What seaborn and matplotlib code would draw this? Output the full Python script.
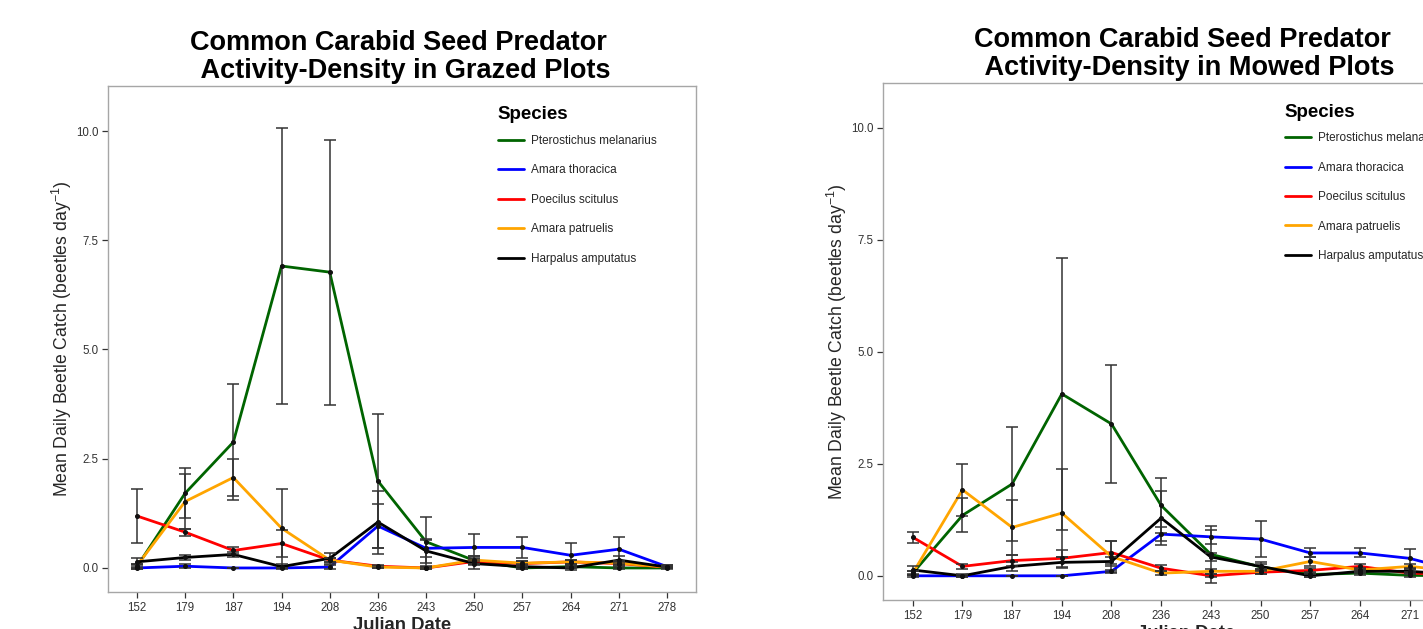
import matplotlib
matplotlib.use("Agg")
import matplotlib.pyplot as plt
import seaborn as sns
import pandas as pd

# ---------------- data ----------------
dates = ["152", "179", "187", "194", "208", "236", "243", "250", "257", "264", "271", "278"]
species = ["Pterostichus melanarius", "Amara thoracica", "Poecilus scitulus",
           "Amara patruelis", "Harpalus amputatus"]
colors = ["#006400", "#0000FF", "#FF0000", "#FFA500", "#000000"]

# Grazed plots: means and standard errors
grazed_pm = [0.03, 1.71, 2.88, 6.91, 6.77, 1.99, 0.60, 0.17, 0.00, 0.03, 0.00, 0.00]
grazed_pm_se = [0.05, 0.57, 1.33, 3.15, 3.03, 1.53, 0.56, 0.10, 0.03, 0.03, 0.03, 0.00]
grazed_at = [0.00, 0.04, 0.00, 0.00, 0.02, 0.96, 0.45, 0.47, 0.47, 0.29, 0.43, 0.03]
grazed_at_se = [0.03, 0.04, 0.00, 0.00, 0.05, 0.51, 0.20, 0.30, 0.24, 0.27, 0.29, 0.03]
grazed_ps = [1.19, 0.82, 0.40, 0.56, 0.18, 0.04, 0.00, 0.15, 0.10, 0.14, 0.10, 0.02]
grazed_ps_se = [0.61, 0.08, 0.07, 0.30, 0.05, 0.03, 0.02, 0.05, 0.05, 0.05, 0.05, 0.00]
grazed_ap = [0.05, 1.52, 2.07, 0.91, 0.18, 0.02, 0.00, 0.18, 0.11, 0.14, 0.11, 0.02]
grazed_ap_se = [0.05, 0.63, 0.42, 0.90, 0.05, 0.03, 0.02, 0.10, 0.05, 0.05, 0.05, 0.02]
grazed_ha = [0.14, 0.24, 0.31, 0.03, 0.22, 1.05, 0.39, 0.10, 0.03, 0.00, 0.18, 0.02]
grazed_ha_se = [0.08, 0.05, 0.06, 0.05, 0.12, 0.72, 0.28, 0.12, 0.05, 0.05, 0.10, 0.05]

# Mowed plots: means and standard errors
mowed_pm = [0.06, 1.35, 2.05, 4.06, 3.39, 1.57, 0.48, 0.20, 0.03, 0.06, 0.01, 0.00]
mowed_pm_se = [0.05, 0.38, 1.27, 3.04, 1.32, 0.61, 0.63, 0.10, 0.05, 0.05, 0.03, 0.00]
mowed_at = [0.00, 0.00, 0.00, 0.00, 0.10, 0.93, 0.87, 0.82, 0.51, 0.51, 0.39, 0.10]
mowed_at_se = [0.02, 0.02, 0.00, 0.00, 0.03, 0.15, 0.15, 0.41, 0.10, 0.10, 0.21, 0.05]
mowed_ps = [0.86, 0.21, 0.34, 0.39, 0.52, 0.17, 0.00, 0.08, 0.12, 0.21, 0.06, 0.03]
mowed_ps_se = [0.12, 0.05, 0.13, 0.19, 0.25, 0.07, 0.03, 0.05, 0.05, 0.05, 0.03, 0.03]
mowed_ap = [0.06, 1.92, 1.08, 1.40, 0.43, 0.06, 0.10, 0.10, 0.32, 0.13, 0.21, 0.10]
mowed_ap_se = [0.05, 0.58, 0.62, 0.98, 0.35, 0.05, 0.05, 0.05, 0.10, 0.05, 0.05, 0.05]
mowed_ha = [0.13, 0.00, 0.21, 0.30, 0.32, 1.29, 0.42, 0.21, 0.00, 0.10, 0.10, 0.03]
mowed_ha_se = [0.08, 0.03, 0.10, 0.12, 0.10, 0.60, 0.10, 0.05, 0.03, 0.03, 0.05, 0.03]

yticks = [0.0, 2.5, 5.0, 7.5, 10.0]
ytick_labels = ["0.0", "2.5", "5.0", "7.5", "10.0"]

titles = ["Common Carabid Seed Predator \n Activity-Density in Grazed Plots",
          "Common Carabid Seed Predator \n Activity-Density in Mowed Plots"]


def build(means, ses):
    rows = []
    for sp, m, s in zip(species, means, ses):
        for d, mv, sv in zip(dates, m, s):
            rows.append({"Date": d, "Species": sp, "Mean": mv, "SE": sv})
    return pd.DataFrame(rows)


grazed = build([grazed_pm, grazed_at, grazed_ps, grazed_ap, grazed_ha],
               [grazed_pm_se, grazed_at_se, grazed_ps_se, grazed_ap_se, grazed_ha_se])
mowed = build([mowed_pm, mowed_at, mowed_ps, mowed_ap, mowed_ha],
              [mowed_pm_se, mowed_at_se, mowed_ps_se, mowed_ap_se, mowed_ha_se])

# ---------------- style ----------------
sns.set_theme(style="white")
plt.rcParams["font.family"] = ["Liberation Sans", "DejaVu Sans"]
plt.rcParams["mathtext.fontset"] = "custom"
plt.rcParams["mathtext.rm"] = "Liberation Sans"
plt.rcParams["mathtext.it"] = "Liberation Sans:italic"
plt.rcParams["mathtext.bf"] = "Liberation Sans:bold"

fig = plt.figure(figsize=(14.23, 6.29), dpi=100)
fig.patch.set_facecolor("white")
ax1 = fig.add_axes([108 / 1423, 37 / 629, 588 / 1423, 506 / 629])
ax2 = fig.add_axes([883 / 1423, 29 / 629, 606 / 1423, 517 / 629])

palette = dict(zip(species, colors))

for ax, df, title, ylim in [(ax1, grazed, titles[0], (-0.55, 11.03)),
                            (ax2, mowed, titles[1], (-0.54, 11.0))]:
    sns.lineplot(data=df, x="Date", y="Mean", hue="Species", hue_order=species,
                 palette=palette, linewidth=2.0, sort=False, errorbar=None, ax=ax,
                 zorder=2)
    for sp in species:
        sub = df[df["Species"] == sp]
        ax.errorbar(sub["Date"], sub["Mean"], yerr=sub["SE"], fmt="o", ms=2.6,
                    color="#111111", ecolor="#333333", elinewidth=1.1,
                    capsize=4.6, capthick=1.1, zorder=3)
    ax.set_xlim(-0.6, len(dates) - 1 + 0.6)
    ax.set_ylim(*ylim)
    ax.set_yticks(yticks)
    ax.set_yticklabels(ytick_labels)
    ax.tick_params(axis="both", which="major", direction="out", length=4, width=0.9,
                   color="#333333", labelsize=8.3, labelcolor="#333333", pad=3,
                   bottom=True, left=True)
    for s in ax.spines.values():
        s.set_color("#a6a6a6")
        s.set_linewidth(1.0)
    ax.set_title(title, fontsize=19.5, fontweight="bold", linespacing=1.06, pad=6,
                 color="black")
    ax.set_xlabel("Julian Date", fontsize=13.3, fontweight="bold", labelpad=2)
    ax.set_ylabel("Mean Daily Beetle Catch (beetles day$^{-1}$)", fontsize=12.7,
                  labelpad=1.5)
    leg = ax.legend(title="Species", loc="upper left", bbox_to_anchor=(0.663, 0.960),
                    frameon=False, fontsize=8.5,
                    title_fontproperties={"weight": "bold", "size": 13.5},
                    handlelength=2.2, handletextpad=0.6, labelspacing=1.48,
                    borderaxespad=0, borderpad=0, alignment="left")
    leg._legend_box.sep = 8.3
    for h in leg.get_lines():
        h.set_linewidth(2.0)
    leg.get_title().set_color("black")

fig.savefig("out.png", dpi=100, facecolor="white")
